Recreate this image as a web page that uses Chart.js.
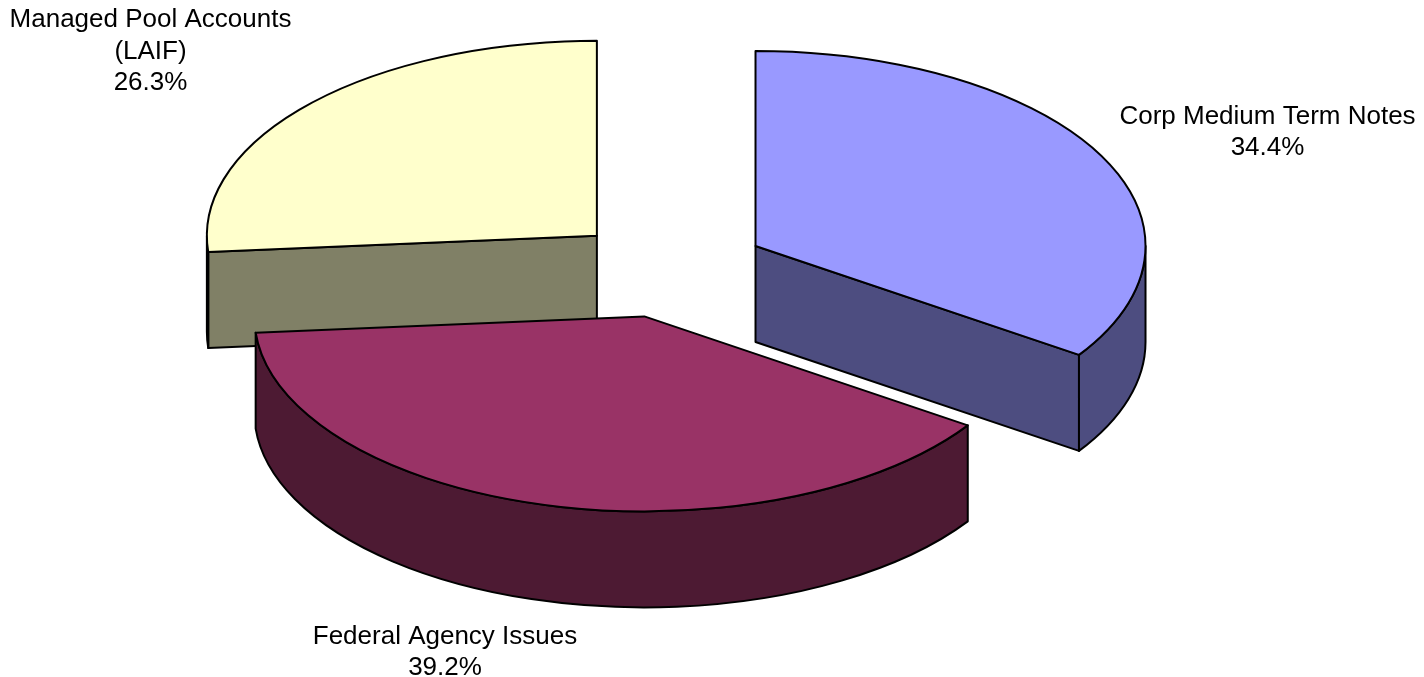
<!DOCTYPE html>
<html><head><meta charset="utf-8">
<script src="https://cdn.jsdelivr.net/npm/chart.js@4.4.1/dist/chart.umd.min.js"></script>
<style>html,body{margin:0;padding:0;background:#fff;overflow:hidden}canvas{display:block}</style>
</head><body>
<canvas id="c" width="1424" height="677"></canvas>
<script>
// ---- data ----
const categories = ['Corp Medium Term Notes', 'Federal Agency Issues', 'Managed Pool Accounts\n(LAIF)'];
const shares = [34.4, 39.2, 26.3];
// ---- styles ----
const topColors = ['#9999FF', '#993366', '#FFFFCC'];
const sideColors = ['#4D4D80', '#4D1A33', '#808066'];
// ---- layout ----
const TILT = 0.5, DEPTH = 96, EXPLODE = 98, RADIUS = 390, LINE = 31.5;
const labelAnchors = [[1267.5, 123.5], [445, 643.5], [150.5, 27]];

const pie3d = {
  id: 'pie3d',
  beforeDatasetsDraw(chart) {
    const ctx = chart.ctx;
    const arcs = chart.getDatasetMeta(0).data;
    const geo = arcs.map((a, i) => {
      const p = a.getProps(['x', 'y', 'startAngle', 'endAngle', 'outerRadius'], true);
      const m = (p.startAngle + p.endAngle) / 2;
      return Object.assign({ i, a, m, cx: p.x + Math.cos(m) * EXPLODE, cy: p.y + Math.sin(m) * EXPLODE * TILT }, p);
    });
    geo.sort((u, v) => Math.sin(u.m) - Math.sin(v.m));
    ctx.save();
    ctx.lineWidth = 2; ctx.lineJoin = 'round'; ctx.strokeStyle = '#000';
    for (const g of geo) {
      const cx = g.cx, cy = g.cy, s = g.startAngle, e = g.endAngle, r = g.outerRadius, ry = r * TILT;
      const px = t => cx + r * Math.cos(t), py = t => cy + ry * Math.sin(t);
      ctx.fillStyle = sideColors[g.i];
      const radial = t => {
        ctx.beginPath(); ctx.moveTo(cx, cy); ctx.lineTo(px(t), py(t));
        ctx.lineTo(px(t), py(t) + DEPTH); ctx.lineTo(cx, cy + DEPTH); ctx.closePath();
        ctx.fill(); ctx.stroke();
      };
      if (Math.cos(s) < -1e-6) radial(s);
      if (Math.cos(e) > 1e-6) radial(e);
      for (let k = -1; k <= 2; k++) {
        const lo = Math.max(s, 2 * Math.PI * k), hi = Math.min(e, 2 * Math.PI * k + Math.PI);
        if (hi > lo) {
          ctx.beginPath();
          ctx.ellipse(cx, cy, r, ry, 0, lo, hi, false);
          ctx.ellipse(cx, cy + DEPTH, r, ry, 0, hi, lo, true);
          ctx.closePath(); ctx.fill(); ctx.stroke();
        }
      }
      // top face drawn by the library's arc element, projected
      ctx.save();
      ctx.translate(cx, cy); ctx.scale(1, TILT); ctx.translate(-g.x, -g.y);
      g.a.draw(ctx);
      ctx.restore();
      ctx.beginPath(); ctx.moveTo(cx, cy); ctx.ellipse(cx, cy, r, ry, 0, s, e, false); ctx.closePath(); ctx.stroke();
    }
    ctx.restore();
    return false;
  },
  afterDraw(chart) {
    const ctx = chart.ctx;
    ctx.save();
    ctx.font = '26px "Liberation Sans", Arial, sans-serif';
    ctx.fillStyle = '#000'; ctx.textAlign = 'center'; ctx.textBaseline = 'alphabetic';
    const labels = chart.data.labels, vals = chart.data.datasets[0].data;
    labels.forEach((c, i) => {
      const lines = c.split('\n').concat([vals[i].toFixed(1) + '%']);
      const [x, y] = labelAnchors[i];
      lines.forEach((l, j) => ctx.fillText(l, x, y + j * LINE));
    });
    ctx.restore();
  }
};

new Chart(document.getElementById('c'), {
  type: 'pie',
  data: { labels: categories, datasets: [{ data: shares, backgroundColor: topColors, borderWidth: 0, offset: 0 }] },
  options: {
    responsive: false, animation: false, devicePixelRatio: 1,
    radius: RADIUS,
    layout: { padding: { left: 0, top: 0, right: 86, bottom: 139 } },
    plugins: { legend: { display: false }, tooltip: { enabled: false } },
    events: []
  },
  plugins: [pie3d]
});
</script>
</body></html>
